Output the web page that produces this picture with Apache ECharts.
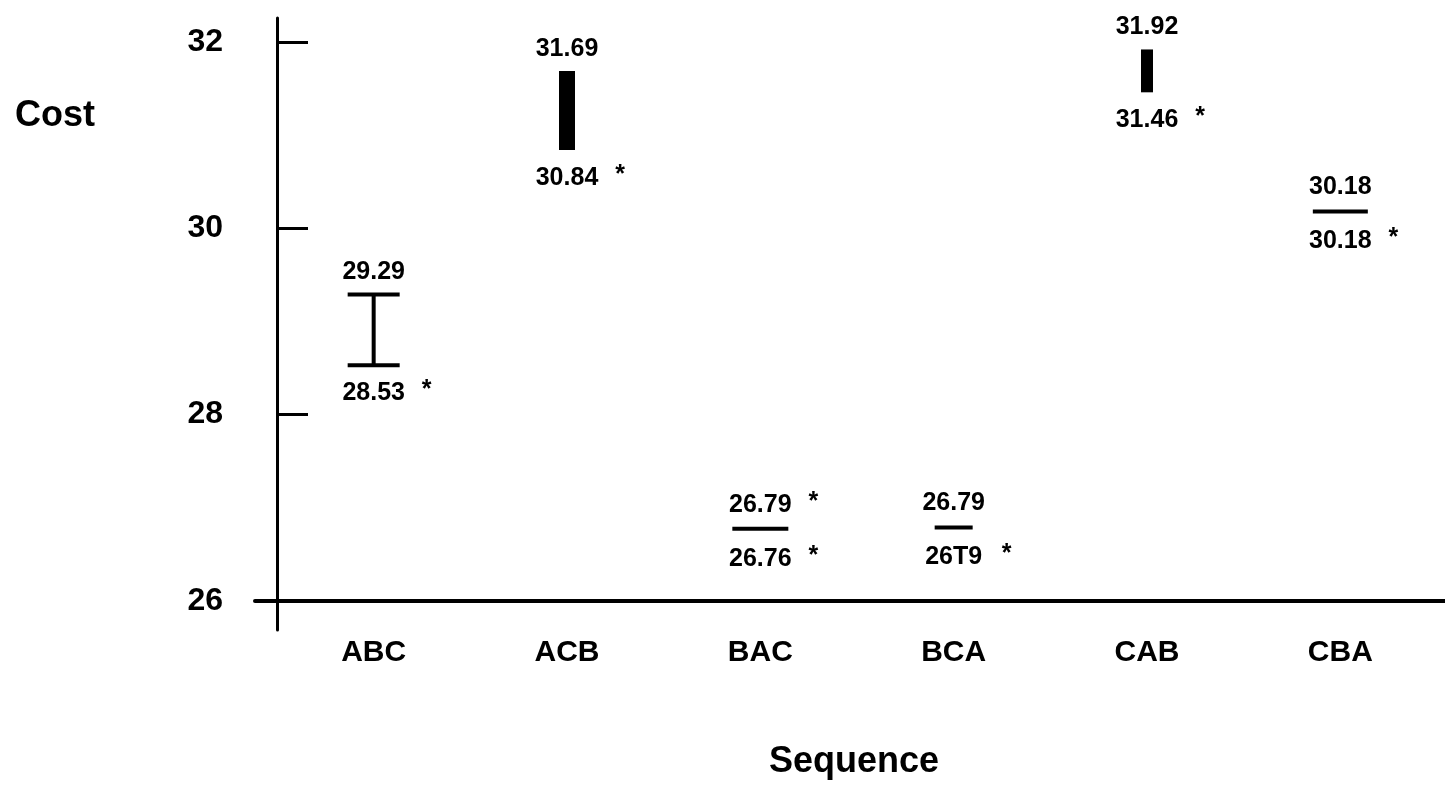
<!DOCTYPE html>
<html>
<head>
<meta charset="utf-8">
<script src="https://cdn.jsdelivr.net/npm/echarts@6/dist/echarts.min.js"></script>
<style>
html,body{margin:0;padding:0;background:#fff;}
#chart{width:1445px;height:790px;}
</style>
</head>
<body>
<div id="chart"></div>
<script>
// ---- data ----
const categories = ['ABC', 'ACB', 'BAC', 'BCA', 'CAB', 'CBA'];
const lows  = [28.53, 30.84, 26.76, 26.79, 31.46, 30.18];
const highs = [29.29, 31.69, 26.79, 26.79, 31.92, 30.18];
const lowLabels  = ['28.53', '30.84', '26.76', '26T9', '31.46', '30.18'];
const highLabels = ['29.29', '31.69', '26.79', '26.79', '31.92', '30.18'];
const lowStar  = [true, true, true, true, true, true];
const highStar = [false, false, true, false, false, false];
const yTicks = [26, 28, 30, 32];

// ---- mark styles (per category) ----
const markStyle = [
  { type: 'ibeam', w: 52 },
  { type: 'bar', w: 16 },
  { type: 'bar', w: 56 },
  { type: 'bar', w: 38 },
  { type: 'bar', w: 12 },
  { type: 'bar', w: 55 }
];

const FONT = '"Liberation Sans", Arial, Helvetica, sans-serif';
const labelFont = 'bold 25px ' + FONT;

const chart = echarts.init(document.getElementById('chart'), null, { renderer: 'canvas' });

function renderItem(params, api) {
  const i = api.value(0);
  const pLo = api.coord([i, api.value(1)]);
  const pHi = api.coord([i, api.value(2)]);
  const x = pLo[0];
  let yLo = pLo[1], yHi = pHi[1];
  const st = markStyle[i];
  const children = [];
  if (st.type === 'ibeam') {
    children.push({ type: 'line', shape: { x1: x, y1: yHi, x2: x, y2: yLo }, style: { stroke: '#000', lineWidth: 4 } });
    children.push({ type: 'line', shape: { x1: x - st.w / 2, y1: yHi, x2: x + st.w / 2, y2: yHi }, style: { stroke: '#000', lineWidth: 4 } });
    children.push({ type: 'line', shape: { x1: x - st.w / 2, y1: yLo, x2: x + st.w / 2, y2: yLo }, style: { stroke: '#000', lineWidth: 4 } });
  } else {
    let h = yLo - yHi;
    let top = yHi;
    if (h < 4) { top = (yLo + yHi) / 2 - 2; h = 4; }
    children.push({ type: 'rect', shape: { x: x - st.w / 2, y: top, width: st.w, height: h }, style: { fill: '#000' } });
  }
  const topY = Math.min(yHi, (yLo + yHi) / 2 - 2) - 22;
  const botY = Math.max(yLo, (yLo + yHi) / 2 + 2) + 28;
  children.push({ type: 'text', style: { text: highLabels[i], x: x, y: topY, align: 'center', verticalAlign: 'middle', font: labelFont, fill: '#000' } });
  if (highStar[i]) children.push({ type: 'text', style: { text: '*', x: x + 53, y: topY - 3, align: 'center', verticalAlign: 'middle', font: labelFont, fill: '#000' } });
  children.push({ type: 'text', style: { text: lowLabels[i], x: x, y: botY, align: 'center', verticalAlign: 'middle', font: labelFont, fill: '#000' } });
  if (lowStar[i]) children.push({ type: 'text', style: { text: '*', x: x + 53, y: botY - 3, align: 'center', verticalAlign: 'middle', font: labelFont, fill: '#000' } });
  return { type: 'group', children: children };
}

const option = {
  backgroundColor: '#fff',
  animation: false,
  grid: [
    { left: 277, right: 8, top: 42, bottom: 189 },
    { left: 277, width: 10, top: 18, bottom: 160 },
    { left: 255, right: 0, top: 42, bottom: 189 }
  ],
  xAxis: [
    {
      gridIndex: 0, type: 'category', data: categories,
      axisLine: { show: false }, axisTick: { show: false }, splitLine: { show: false },
      axisLabel: { margin: 37, color: '#000', fontFamily: FONT, fontWeight: 'bold', fontSize: 30 }
    },
    { gridIndex: 1, type: 'value', show: false },
    {
      gridIndex: 2, type: 'value', min: 0, max: 1,
      axisLine: { show: true, onZero: false, lineStyle: { color: '#000', width: 4 } },
      axisTick: { show: false }, axisLabel: { show: false }, splitLine: { show: false }
    }
  ],
  yAxis: [
    {
      gridIndex: 0, type: 'value', min: 26, max: 32, interval: 2,
      axisLine: { show: false },
      axisTick: { show: true, inside: true, length: 31, lineStyle: { color: '#000', width: 3 } },
      splitLine: { show: false },
      axisLabel: { margin: 54, color: '#000', fontFamily: FONT, fontWeight: 'bold', fontSize: 32,
        customValues: yTicks }
    },
    {
      gridIndex: 1, type: 'value', min: 0, max: 1,
      axisLine: { show: true, lineStyle: { color: '#000', width: 3 } },
      axisTick: { show: false }, axisLabel: { show: false }, splitLine: { show: false }
    },
    { gridIndex: 2, type: 'value', min: 0, max: 1, show: false }
  ],
  graphic: [
    { type: 'text', left: 15, top: 98, style: { text: 'Cost', font: 'bold 36px ' + FONT, fill: '#000' } },
    { type: 'text', left: 769, top: 744, style: { text: 'Sequence', font: 'bold 36px ' + FONT, fill: '#000' } }
  ],
  series: [
    {
      type: 'custom', xAxisIndex: 0, yAxisIndex: 0,
      renderItem: renderItem,
      data: categories.map((c, i) => [i, lows[i], highs[i]]),
      encode: { x: 0, y: [1, 2] },
      z: 5
    }
  ]
};
chart.setOption(option);
</script>
</body>
</html>
